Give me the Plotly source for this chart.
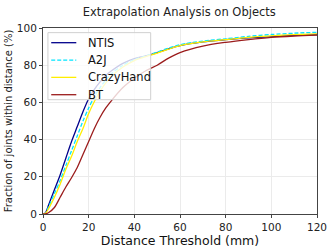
import plotly.graph_objects as go

thresholds = [0, 1, 2.5, 5, 7.5, 10, 12.5, 15, 17.5, 20, 22.5, 25, 27.5, 30, 35, 40, 45, 50, 55, 60, 70, 80, 90, 100, 110, 120]
ntis =       [0, 0.5, 5, 13, 21, 30, 39, 47, 55, 62, 67, 71, 74.5, 77, 81, 83.5, 85.0, 86.8, 88.8, 90.5, 92.5, 93.7, 94.7, 95.4, 96.0, 96.5]
a2j =        [0, 0.3, 4, 11, 18, 26, 34, 42, 50, 57, 63, 68, 72, 75.5, 80, 83, 85.0, 87.0, 89.2, 91.0, 93.0, 94.2, 95.5, 96.5, 97.2, 97.7]
crazyhand =  [0, 0.2, 3, 9, 16, 24, 31, 39, 46, 54, 60.5, 66, 70.5, 74, 79, 82.5, 84.6, 86.5, 88.6, 90.5, 92.5, 93.7, 95.0, 95.8, 96.4, 96.8]
bt =         [0, 0, 0.8, 3.5, 9, 14.5, 19.5, 25, 32, 39, 46, 52, 57, 61, 68, 73, 77, 80, 83.8, 86.8, 90.3, 92.3, 93.8, 95.0, 95.7, 96.2]

series_names = ["NTIS", "A2J", "CrazyHand", "BT"]
series_values = [ntis, a2j, crazyhand, bt]
colors = ["#00008b", "#00e5ff", "#ffee00", "#9b1c1c"]
dashes = ["solid", "4px,2px", "solid", "solid"]

x_ticks = [0, 20, 40, 60, 80, 100, 120]
y_ticks = [0, 20, 40, 60, 80, 100]

fig = go.Figure()
for name, vals, c, d in zip(series_names, series_values, colors, dashes):
    fig.add_trace(go.Scatter(x=thresholds, y=vals, mode="lines", name=name, showlegend=False,
                             line=dict(color=c, width=1.3, dash=d, shape="spline", smoothing=0.8)))

font_family = "DejaVu Sans"

# Matplotlib-style legend box (semi-transparent, drawn above the curves)
box = dict(x0=0.018, x1=0.393, y0=0.6145, y1=0.975)
row_top, row_step = 0.921, 0.0932
line_x0, line_x1, text_x = 0.030, 0.1215, 0.156
shapes = [dict(type="rect", xref="paper", yref="paper", layer="above",
               x0=box["x0"], x1=box["x1"], y0=box["y0"], y1=box["y1"],
               fillcolor="rgba(255,255,255,0.8)", line=dict(color="#d0d0d0", width=1))]
annotations = []
for i, (name, c, d) in enumerate(zip(series_names, colors, dashes)):
    yy = row_top - i * row_step
    shapes.append(dict(type="line", xref="paper", yref="paper", layer="above",
                       x0=line_x0, x1=line_x1, y0=yy, y1=yy,
                       line=dict(color=c, width=1.3, dash=d)))
    annotations.append(dict(text=name, xref="paper", yref="paper", x=text_x, y=yy,
                            xanchor="left", yanchor="middle", showarrow=False,
                            font=dict(size=11.5, family=font_family, color="#111111")))

fig.update_layout(
    width=332, height=249,
    margin=dict(l=43, r=15, t=28, b=35),
    paper_bgcolor="white", plot_bgcolor="white",
    font=dict(family=font_family, color="#222222"),
    title=dict(text="Extrapolation Analysis on Objects", x=0.54, xanchor="center",
               y=0.952, yanchor="middle", font=dict(size=11.5, family=font_family, color="#222222")),
    showlegend=False,
    shapes=shapes,
    annotations=annotations,
    xaxis=dict(range=[0, 120], tickvals=x_ticks, ticktext=[str(v) for v in x_ticks],
               automargin=False,
               showgrid=True, gridcolor="#ebebeb", gridwidth=1, zeroline=False,
               showline=True, linecolor="#444444", linewidth=1, mirror=True,
               ticks="outside", ticklen=3, tickcolor="#444444",
               tickfont=dict(size=10.5, family=font_family, color="#222222"),
               title=dict(text="Distance Threshold (mm)", standoff=2,
                          font=dict(size=12.5, family=font_family, color="#111111"))),
    yaxis=dict(range=[0, 100], tickvals=y_ticks, ticktext=[str(v) for v in y_ticks],
               automargin=False,
               showgrid=True, gridcolor="#ebebeb", gridwidth=1, zeroline=False,
               showline=True, linecolor="#444444", linewidth=1, mirror=True,
               ticks="outside", ticklen=3, tickcolor="#444444",
               tickfont=dict(size=10.5, family=font_family, color="#222222"),
               title=dict(text="Fraction of joints within distance (%)", standoff=2,
                          font=dict(size=10, family=font_family, color="#222222"))),
)

fig.write_html("out.html", config={"displayModeBar": False},
               post_script="document.body.style.margin='0px';document.body.style.overflow='hidden';")
